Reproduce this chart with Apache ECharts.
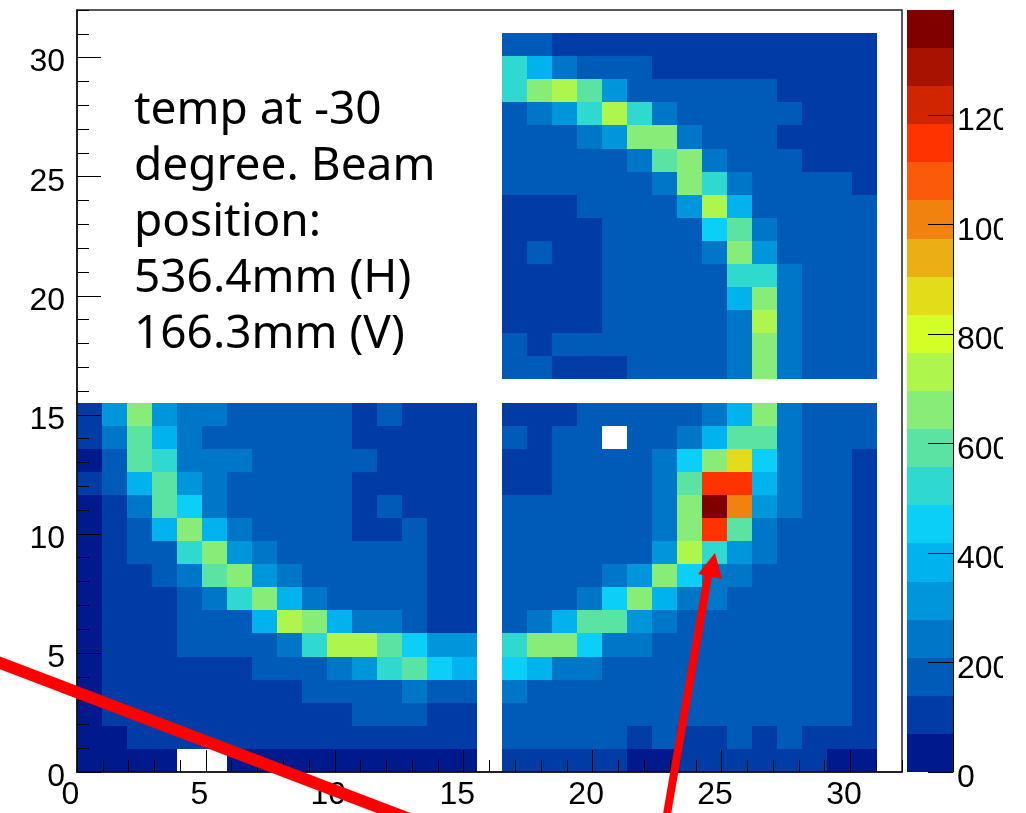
<!DOCTYPE html>
<html><head><meta charset="utf-8">
<style>html,body{margin:0;padding:0;background:#fff}#c{width:1026px;height:813px}</style>
<script src="https://cdn.jsdelivr.net/npm/echarts@6/dist/echarts.min.js"></script>
</head><body><div id="c"></div>
<script>
// Estimated cell contents, bottom row first; columns are bins 0..15, gap (16), bins 17..31
const n = null;
const row00 = [35,35,35,35,n,n,35,35,35,35,35,35,35,35,35,35, n, 105,105,105,105,105,35,35,105,105,105,105,105,105,35,35];
const row01 = [35,35,105,105,105,105,105,105,105,105,105,105,105,105,105,105, n, 175,175,175,175,175,105,175,105,105,175,105,175,105,105,105];
const row02 = [35,105,105,105,105,105,105,105,105,105,105,175,175,175,105,105, n, 175,175,175,175,175,175,175,175,175,175,175,175,175,175,105];
const row03 = [35,105,105,105,105,105,105,105,105,175,175,175,175,245,175,175, n, 245,175,175,175,175,175,175,175,175,175,175,175,175,175,105];
const row04 = [35,105,105,105,105,105,105,175,175,175,245,315,525,595,455,385, n, 455,385,245,245,175,175,175,175,175,175,175,175,175,175,105];
const row05 = [35,105,105,105,175,175,175,175,245,525,730,730,595,455,315,315, n, 525,660,660,455,245,245,175,175,175,175,175,175,175,175,105];
const row06 = [35,105,105,105,175,175,175,385,730,660,385,245,245,175,105,105, n, 175,245,385,595,595,315,245,175,175,175,175,175,175,175,105];
const row07 = [35,105,105,105,175,245,525,660,385,245,175,175,175,175,105,105, n, 175,175,175,245,455,660,385,245,245,175,175,175,175,175,105];
const row08 = [35,105,105,175,245,595,660,315,245,175,175,175,175,175,105,105, n, 175,175,175,175,245,315,660,455,245,245,175,175,175,175,105];
const row09 = [35,105,175,175,525,660,315,245,175,175,175,175,175,175,105,105, n, 175,175,175,175,175,175,315,730,525,315,245,175,175,175,105];
const row10 = [35,105,175,385,660,385,245,175,175,175,175,105,105,175,105,105, n, 175,175,175,175,175,175,245,660,1150,595,245,175,175,175,105];
const row11 = [35,105,245,595,455,245,175,175,175,175,175,105,175,105,105,105, n, 175,175,175,175,175,175,245,660,1360,1010,315,245,175,175,105];
const row12 = [105,175,385,595,315,245,175,175,175,175,175,105,105,105,105,105, n, 105,105,175,175,175,175,245,595,1150,1150,385,245,175,175,105];
const row13 = [35,175,595,525,245,245,245,175,175,175,175,175,105,105,105,105, n, 105,105,175,175,175,175,245,455,660,870,455,245,175,175,105];
const row14 = [105,245,595,385,245,175,175,175,175,175,175,105,105,105,105,105, n, 175,105,175,175,n,175,175,245,385,595,595,245,175,175,175];
const row15 = [105,315,660,315,245,245,175,175,175,175,175,105,175,105,105,105, n, 105,105,105,175,175,175,175,175,245,385,660,245,175,175,175];
const row16 = [];
const row17 = [n,n,n,n,n,n,n,n,n,n,n,n,n,n,n,n, n, 175,175,105,105,105,175,175,175,175,245,660,245,175,175,175];
const row18 = [n,n,n,n,n,n,n,n,n,n,n,n,n,n,n,n, n, 175,105,175,175,175,175,175,175,175,245,660,245,175,175,175];
const row19 = [n,n,n,n,n,n,n,n,n,n,n,n,n,n,n,n, n, 105,105,105,105,175,175,175,175,175,245,730,245,175,175,175];
const row20 = [n,n,n,n,n,n,n,n,n,n,n,n,n,n,n,n, n, 105,105,105,105,175,175,175,175,175,385,660,245,175,175,175];
const row21 = [n,n,n,n,n,n,n,n,n,n,n,n,n,n,n,n, n, 105,105,105,105,175,175,175,175,175,525,525,245,175,175,175];
const row22 = [n,n,n,n,n,n,n,n,n,n,n,n,n,n,n,n, n, 105,175,105,105,175,175,175,175,245,660,315,175,175,175,175];
const row23 = [n,n,n,n,n,n,n,n,n,n,n,n,n,n,n,n, n, 105,105,105,105,175,175,175,175,455,595,245,175,175,175,175];
const row24 = [n,n,n,n,n,n,n,n,n,n,n,n,n,n,n,n, n, 105,105,105,175,175,175,175,315,730,385,175,175,175,175,175];
const row25 = [n,n,n,n,n,n,n,n,n,n,n,n,n,n,n,n, n, 175,175,175,175,175,175,245,660,525,245,175,175,175,175,105];
const row26 = [n,n,n,n,n,n,n,n,n,n,n,n,n,n,n,n, n, 175,175,175,175,175,245,595,660,245,175,175,175,105,105,105];
const row27 = [n,n,n,n,n,n,n,n,n,n,n,n,n,n,n,n, n, 175,175,175,245,315,660,660,245,175,175,175,105,105,105,105];
const row28 = [n,n,n,n,n,n,n,n,n,n,n,n,n,n,n,n, n, 175,245,315,525,730,525,245,175,175,175,175,175,105,105,105];
const row29 = [n,n,n,n,n,n,n,n,n,n,n,n,n,n,n,n, n, 525,660,730,595,315,175,175,175,175,175,175,105,105,105,105];
const row30 = [n,n,n,n,n,n,n,n,n,n,n,n,n,n,n,n, n, 525,385,245,175,175,175,105,105,105,105,105,105,105,105,105];
const row31 = [n,n,n,n,n,n,n,n,n,n,n,n,n,n,n,n, n, 175,175,105,105,105,105,105,105,105,105,105,105,105,105,105];
const rows = [row00,row01,row02,row03,row04,row05,row06,row07,row08,row09,row10,row11,row12,row13,row14,row15,
              row16,row17,row18,row19,row20,row21,row22,row23,row24,row25,row26,row27,row28,row29,row30,row31];

const binLabels = Array.from({length:33},(_, i)=>String(i));
const majorTicks = [0,5,10,15,20,25,30];
const barTicks = [0,200,400,600,800,1000,1200];
const zMax = 1392;
const barValues = [35,105,175,245,315,385,455,525,595,660,730,800,870,940,1010,1080,1150,1220,1290,1360];
const palette = ['#001a8e','#003ba6','#005bb8','#0076c9','#0096dc','#00b3ef','#0bcff7','#2fd9d0','#5ae3a2','#88ec78',
                 '#aef64d','#d3ff26','#e2dd18','#ebae14','#f28210','#fb5a0a','#ff3300','#d12400','#a81200','#800000'];
const note = ['temp at -30','degree. Beam','position:','536.4mm (H)','166.3mm (V)'];

const cells = [];
rows.forEach((r,y)=>r.forEach((v,x)=>{ if(v!==null) cells.push([x,y,v]); }));
const barCells = barValues.map((v,i)=>[0,i,v]);

// Cell drawn from the axes' own scales; edges snapped so neighbouring cells share a pixel edge.
function drawCell(params, api){
  const c = api.coord([api.value(0), api.value(1)]);
  const s = api.size([1,1]);
  const x0 = Math.round(c[0]-s[0]/2), x1 = Math.round(c[0]+s[0]/2);
  const y0 = Math.round(c[1]-s[1]/2), y1 = Math.round(c[1]+s[1]/2);
  return {type:'rect',shape:{x:x0,y:y0,width:x1-x0,height:y1-y0},style:{fill:api.visual('color')}};
}

const font = '"Liberation Sans", Arial, sans-serif';
const rect = {left:77, top:10, width:825, height:762, outerBoundsMode:'none'};
const hidden = (o)=>Object.assign({show:false}, o);
const minorX = {gridIndex:1,type:'value',min:0,max:32,interval:1,position:'bottom',z:10,
  axisLine:{show:false},splitLine:{show:false},axisLabel:{show:false},
  axisTick:{show:true,inside:true,length:12,lineStyle:{color:'#000',width:1}}};
const minorY = {gridIndex:1,type:'value',min:0,max:32,interval:1,position:'left',z:10,
  axisLine:{show:false},splitLine:{show:false},axisLabel:{show:false},
  axisTick:{show:true,inside:true,length:12,lineStyle:{color:'#000',width:1}}};
const majorX = {gridIndex:2,type:'value',min:0,max:32,position:'bottom',z:11,
  axisLine:{show:true,onZero:false,lineStyle:{color:'#111',width:1.5}},splitLine:{show:false},
  axisTick:{show:true,inside:true,length:22,customValues:majorTicks,lineStyle:{color:'#000',width:1}},
  axisLabel:{show:true,customValues:majorTicks,margin:7,padding:[0,13,0,0],color:'#000',fontSize:32,fontFamily:font}};
const majorY = {gridIndex:2,type:'value',min:0,max:32,position:'left',z:11,
  axisLine:{show:true,onZero:false,lineStyle:{color:'#111',width:1.5}},splitLine:{show:false},
  axisTick:{show:true,inside:true,length:24,customValues:majorTicks,lineStyle:{color:'#000',width:1}},
  axisLabel:{show:true,customValues:majorTicks,margin:12,verticalAlign:'top',lineHeight:10,color:'#000',fontSize:32,fontFamily:font}};

const chart = echarts.init(document.getElementById('c'),null,{renderer:'canvas'});
chart.setOption({
  animation:false,
  backgroundColor:'#fff',
  grid:[
    Object.assign({show:true,borderColor:'#222',borderWidth:1.5,backgroundColor:'#fff'},rect),
    rect, rect,
    {left:907,top:10,width:46,height:762,outerBoundsMode:'none'}
  ],
  xAxis:[
    hidden({gridIndex:0,type:'category',data:binLabels}),
    minorX, majorX,
    hidden({gridIndex:3,type:'category',data:['z']})
  ],
  yAxis:[
    hidden({gridIndex:0,type:'category',data:binLabels}),
    minorY, majorY,
    hidden({gridIndex:3,type:'category',data:barValues.map(String),position:'left'}),
    {gridIndex:3,type:'value',min:0,max:zMax,position:'right',z:11,
     axisLine:{show:true,onZero:false,lineStyle:{color:'#000',width:1}},splitLine:{show:false},
     axisTick:{show:true,inside:true,length:25,customValues:barTicks,lineStyle:{color:'#000',width:1}},
     axisLabel:{show:true,customValues:barTicks,formatter:(v)=>String(v),margin:4,verticalAlign:'top',lineHeight:13,color:'#000',fontSize:32,fontFamily:font}}
  ],
  visualMap:{type:'piecewise',show:false,min:0,max:zMax,splitNumber:20,dimension:2,seriesIndex:[0,1],
    inRange:{color:palette}},
  series:[
    {type:'custom',xAxisIndex:0,yAxisIndex:0,data:cells,z:1,silent:true,encode:{x:0,y:1},renderItem:drawCell},
    {type:'custom',xAxisIndex:3,yAxisIndex:3,data:barCells,z:1,silent:true,encode:{x:0,y:1},renderItem:drawCell}
  ],
  graphic:[
    {type:'rect',z:50,silent:true,shape:{x:1003,y:0,width:23,height:813},style:{fill:'#fff'}},
    {type:'text',z:60,silent:true,left:134,top:83,style:{text:note.join('\n'),fontFamily:'"Noto Sans", sans-serif',fontSize:46,lineHeight:56,fill:'#000'}},
    {type:'line',z:70,silent:true,shape:{x1:-10,y1:659,x2:420,y2:823},style:{stroke:'#ff0000',lineWidth:12}},
    {type:'line',z:70,silent:true,shape:{x1:666,y1:820,x2:709,y2:570},style:{stroke:'#ff0000',lineWidth:8}},
    {type:'polygon',z:71,silent:true,shape:{points:[[715,553],[698,574],[722,579]]},style:{fill:'#ff0000'}}
  ]
});
</script></body></html>
